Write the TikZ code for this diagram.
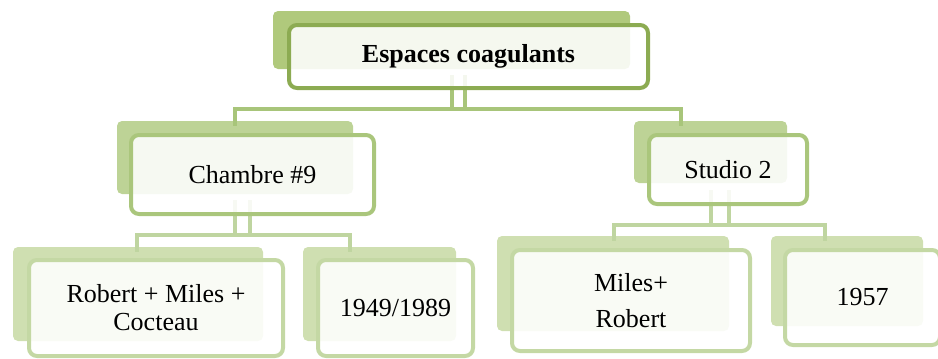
\documentclass[tikz,border=0pt]{standalone}
\usepackage{fontspec}
\setmainfont{Liberation Serif}
\usetikzlibrary{calc}
\definecolor{backA}{HTML}{B0C97C}
\definecolor{lineA}{HTML}{8CAB52}
\definecolor{backB}{HTML}{BDD396}
\definecolor{lineB}{HTML}{AAC67C}
\definecolor{backC}{HTML}{CFDFB1}
\definecolor{lineC}{HTML}{C4D8A4}
\definecolor{connA}{HTML}{A8C57A}
\definecolor{connB}{HTML}{BFD5A0}
\tikzset{
  backbox/.style={rectangle, rounded corners=5pt, inner sep=0pt, draw=none},
  frontbox/.style={rectangle, rounded corners=8pt, inner sep=0pt, line width=4pt,
    fill=white, fill opacity=0.88, text opacity=1, draw opacity=1, align=center,
    font=\fontsize{26}{28}\selectfont},
  conn/.style={line width=4pt},
}
\begin{document}
\begin{tikzpicture}[x=1pt,y=-1pt]
\useasboundingbox (0,0) rectangle (938,359);
% back boxes
\node[backbox, fill=backA, minimum width=357pt, minimum height=58pt] (T0) at (451.5,40) {};
\node[backbox, fill=backB, minimum width=236pt, minimum height=73pt] (C0) at (235,157.5) {};
\node[backbox, fill=backB, minimum width=153pt, minimum height=62pt] (S0) at (710.5,152) {};
\node[backbox, fill=backC, minimum width=250pt, minimum height=94pt] (R0) at (138,294) {};
\node[backbox, fill=backC, minimum width=153pt, minimum height=94pt] (Y0) at (379.5,294) {};
\node[backbox, fill=backC, minimum width=232pt, minimum height=95pt] (M0) at (613,283.5) {};
\node[backbox, fill=backC, minimum width=152pt, minimum height=90pt] (N0) at (847,281) {};
% connector coordinates
\coordinate (busL) at (235,109);
\coordinate (busR) at (681,109);
\coordinate (bus2L) at (137,235);
\coordinate (bus2R) at (350,235);
\coordinate (bus3L) at (614,225);
\coordinate (bus3R) at (825,225);
% level 1 connectors
\draw[conn,connA] ($(T0.south)+(0,6)$) -- (T0.south |- busL);
\draw[conn,connA] ($(T0.south)+(13,6)$) -- ($(T0.south |- busL)+(13,0)$);
\draw[conn,connA] ($(busL |- C0.north)+(0,5)$) -- (busL) -- (busR) -- ($(busR |- S0.north)+(0,5)$);
% level 2 connectors (Chambre)
\draw[conn,connB] ($(C0.south)+(0,6)$) -- (C0.south |- bus2L);
\draw[conn,connB] ($(C0.south)+(15,6)$) -- ($(C0.south |- bus2L)+(15,0)$);
\draw[conn,connB] ($(bus2L |- R0.north)+(0,5)$) -- (bus2L) -- (bus2R) -- ($(bus2R |- Y0.north)+(0,5)$);
% level 2 connectors (Studio)
\draw[conn,connB] ($(S0.south)+(0,7)$) -- (S0.south |- bus3L);
\draw[conn,connB] ($(S0.south)+(18,7)$) -- ($(S0.south |- bus3L)+(18,0)$);
\draw[conn,connB] ($(bus3L |- M0.north)+(0,5)$) -- (bus3L) -- (bus3R) -- ($(bus3R |- N0.north)+(0,5)$);
% front boxes
\node[frontbox, draw=lineA, minimum width=359pt, minimum height=63pt] (T) at (468.5,56.5) {\bfseries Espaces coagulants};
\node[frontbox, draw=lineB, minimum width=243pt, minimum height=79pt] (C) at (252.5,174.5) {Chambre \#9};
\node[frontbox, draw=lineB, minimum width=158pt, minimum height=69pt] (S) at (728,169.5) {Studio 2};
\node[frontbox, draw=lineC, minimum width=254pt, minimum height=96pt] (R) at (156,308) {\raisebox{-3pt}{\parbox{250pt}{\centering Robert + Miles +\\ Cocteau}}};
\node[frontbox, draw=lineC, minimum width=155pt, minimum height=96pt] (Y) at (395.5,308) {\raisebox{-2pt}{1949/1989}};
\node[frontbox, draw=lineC, minimum width=238pt, minimum height=101pt] (M) at (631,300.5) {Miles+\\[8pt] Robert};
\node[frontbox, draw=lineC, minimum width=155pt, minimum height=95pt] (N) at (862.5,297.5) {1957};
\end{tikzpicture}
\end{document}
